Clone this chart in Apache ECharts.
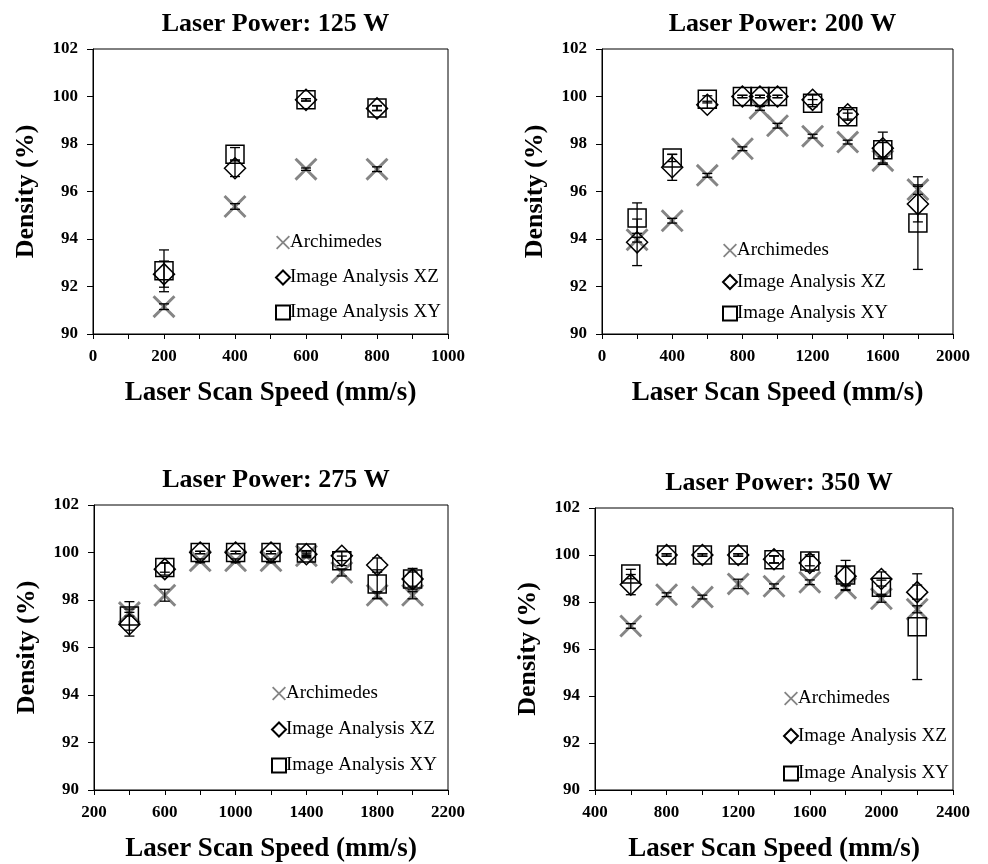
<!DOCTYPE html>
<html>
<head>
<meta charset="utf-8">
<script src="https://cdn.jsdelivr.net/npm/echarts@6/dist/echarts.min.js"></script>
<style>
  html, body { margin: 0; padding: 0; background: #fff; }
  #chart { width: 988px; height: 864px; }
</style>
</head>
<body>
<div id="chart"></div>
<script>
// ---- Data: density (%) vs laser scan speed (mm/s), one block per laser power ----
const seriesNames = ['Archimedes', 'Image Analysis XZ', 'Image Analysis XY'];
const densityTicks = [90, 92, 94, 96, 98, 100, 102];

// 125 W
const speeds125 = [200, 400, 600, 800];
const arch125 = [91.15, 95.37, 96.94, 96.94];
const archErr125 = [0.12, 0.12, 0.05, 0.1];
const xz125 = [92.52, 96.98, 99.86, 99.50];
const xzErr125 = [0.55, 0.35, 0.05, 0.1];
const xy125 = [92.66, 97.57, 99.86, 99.52];
const xyErr125 = [0.88, 0.28, 0.05, 0.1];
const speedTicks125 = [0, 200, 400, 600, 800, 1000];

// 200 W
const speeds200 = [200, 400, 600, 800, 900, 1000, 1200, 1400, 1600, 1800];
const arch200 = [93.97, 94.77, 96.68, 97.80, 99.50, 98.77, 98.33, 98.08, 97.30, 96.08];
const archErr200 = [0.1, 0.1, 0.08, 0.08, 0.08, 0.1, 0.08, 0.08, 0.1, 0.2];
const xz200 = [93.86, 97.02, 99.65, 100.0, 100.0, 100.0, 99.86, 99.25, 97.82, 95.47];
const xzErr200 = [0.98, 0.55, 0.15, 0.05, 0.05, 0.05, 0.2, 0.2, 0.68, 0.75];
const xy200 = [94.88, 97.41, 99.88, 100.0, 100.0, 100.0, 99.72, 99.15, 97.76, 94.67];
const xyErr200 = [0.64, 0.15, 0.15, 0.05, 0.05, 0.05, 0.15, 0.15, 0.3, 1.95];
const speedTicks200 = [0, 400, 800, 1200, 1600, 2000];

// 275 W
const speeds275 = [400, 600, 800, 1000, 1200, 1400, 1600, 1800, 2000];
const arch275 = [97.47, 98.20, 99.65, 99.65, 99.65, 99.86, 99.16, 98.20, 98.20];
const archErr275 = [0.15, 0.25, 0.08, 0.08, 0.08, 0.08, 0.15, 0.15, 0.15];
const xz275 = [96.98, 99.30, 100.0, 100.0, 100.0, 99.93, 99.86, 99.47, 98.88];
const xzErr275 = [0.5, 0.25, 0.05, 0.05, 0.05, 0.1, 0.2, 0.3, 0.45];
const xy275 = [97.33, 99.37, 100.0, 100.0, 100.0, 99.98, 99.65, 98.67, 98.88];
const xyErr275 = [0.6, 0.2, 0.05, 0.05, 0.05, 0.1, 0.2, 0.6, 0.3];
const speedTicks275 = [200, 600, 1000, 1400, 1800, 2200];

// 350 W
const speeds350 = [600, 800, 1000, 1200, 1400, 1600, 1800, 2000, 2200];
const arch350 = [96.98, 98.31, 98.21, 98.77, 98.67, 98.84, 98.59, 98.14, 97.69];
const archErr350 = [0.1, 0.08, 0.08, 0.2, 0.1, 0.1, 0.1, 0.15, 0.15];
const xz350 = [98.74, 100.0, 100.0, 100.0, 99.82, 99.66, 99.10, 98.98, 98.42];
const xzErr350 = [0.43, 0.05, 0.05, 0.05, 0.15, 0.35, 0.4, 0.3, 0.3];
const xy350 = [99.19, 100.0, 100.0, 100.0, 99.80, 99.74, 99.15, 98.63, 96.95];
const xyErr350 = [0.2, 0.05, 0.05, 0.05, 0.15, 0.2, 0.62, 0.3, 2.25];
const speedTicks350 = [400, 800, 1200, 1600, 2000, 2400];

const powers = ['125', '200', '275', '350'];

// ---- Panel definitions (data references + layout) ----
const panels = [
  { power: powers[0], speeds: speeds125, arch: arch125, archErr: archErr125, xz: xz125, xzErr: xzErr125, xy: xy125, xyErr: xyErr125,
    ticks: speedTicks125, min: 0, max: 1000, step: 100,
    grid: { left: 93, top: 49, width: 355, height: 285 }, legend: { left: 270, top: 227, gap: 14 } },
  { power: powers[1], speeds: speeds200, arch: arch200, archErr: archErr200, xz: xz200, xzErr: xzErr200, xy: xy200, xyErr: xyErr200,
    ticks: speedTicks200, min: 0, max: 2000, step: 200,
    grid: { left: 602, top: 49, width: 351, height: 285 }, legend: { left: 717, top: 235, gap: 10.5 } },
  { power: powers[2], speeds: speeds275, arch: arch275, archErr: archErr275, xz: xz275, xzErr: xzErr275, xy: xy275, xyErr: xyErr275,
    ticks: speedTicks275, min: 200, max: 2200, step: 200,
    grid: { left: 94, top: 505, width: 354, height: 285 }, legend: { left: 266, top: 678, gap: 15 } },
  { power: powers[3], speeds: speeds350, arch: arch350, archErr: archErr350, xz: xz350, xzErr: xzErr350, xy: xy350, xyErr: xyErr350,
    ticks: speedTicks350, min: 400, max: 2400, step: 200,
    grid: { left: 595, top: 508, width: 358, height: 285 }, legend: { left: 778, top: 683, gap: 16.5 } }
];

const FONT = "'Liberation Serif', 'Times New Roman', serif";
// filled "x" outline so it can be used both as a marker and a legend icon
const CROSS = 'path://M0,9 L9,0 L50,41 L91,0 L100,9 L59,50 L100,91 L91,100 L50,59 L9,100 L0,91 L41,50 Z';

function errorBarRender(params, api) {
  const x = api.value(0);
  const lo = api.coord([x, api.value(1)]);
  const hi = api.coord([x, api.value(2)]);
  const cap = 5;
  const st = { stroke: '#000', lineWidth: 1.3 };
  return {
    type: 'group',
    children: [
      { type: 'line', shape: { x1: lo[0], y1: lo[1], x2: hi[0], y2: hi[1] }, style: st },
      { type: 'line', shape: { x1: lo[0] - cap, y1: lo[1], x2: lo[0] + cap, y2: lo[1] }, style: st },
      { type: 'line', shape: { x1: hi[0] - cap, y1: hi[1], x2: hi[0] + cap, y2: hi[1] }, style: st }
    ]
  };
}

const option = {
  animation: false,
  backgroundColor: '#fff',
  title: [], grid: [], xAxis: [], yAxis: [], legend: [], series: []
};

panels.forEach((p, i) => {
  const g = p.grid;
  option.title.push({
    text: 'Laser Power: ' + p.power + ' W',
    left: g.left + g.width / 2, top: g.top - 43, textAlign: 'center',
    textStyle: { fontFamily: FONT, fontWeight: 'bold', fontSize: 26, color: '#000' }
  });
  option.grid.push({ left: g.left, top: g.top, width: g.width, height: g.height,
    show: true, borderColor: '#000', borderWidth: 1, backgroundColor: 'transparent' });
  option.xAxis.push({
    type: 'value', gridIndex: i, min: p.min, max: p.max, interval: p.step,
    name: 'Laser Scan Speed (mm/s)', nameLocation: 'middle', nameGap: 46,
    nameTextStyle: { fontFamily: FONT, fontWeight: 'bold', fontSize: 27, color: '#000' },
    axisLine: { show: true, onZero: false, lineStyle: { color: '#000', width: 1 } },
    axisTick: { show: true, length: 5, lineStyle: { color: '#000' } },
    splitLine: { show: false },
    axisLabel: {
      fontFamily: FONT, fontWeight: 'bold', fontSize: 17, color: '#000', margin: 14,
      formatter: v => (p.ticks.indexOf(v) >= 0 ? String(v) : '')
    }
  });
  option.yAxis.push({
    type: 'value', gridIndex: i, min: densityTicks[0], max: densityTicks[densityTicks.length - 1], interval: 2,
    name: 'Density (%)', nameLocation: 'middle', nameGap: 54,
    nameTextStyle: { fontFamily: FONT, fontWeight: 'bold', fontSize: 26, color: '#000' },
    axisLine: { show: true, onZero: false, lineStyle: { color: '#000', width: 1 } },
    axisTick: { show: true, length: 6, lineStyle: { color: '#000' } },
    splitLine: { show: false },
    axisLabel: { fontFamily: FONT, fontWeight: 'bold', fontSize: 17, color: '#000', margin: 15 }
  });
  option.legend.push({
    data: seriesNames, orient: 'vertical', left: p.legend.left, top: p.legend.top,
    itemGap: p.legend.gap, itemWidth: 14, itemHeight: 14,
    textStyle: { fontFamily: FONT, fontSize: 19, color: '#000', lineHeight: 21, padding: [0, 0, 0, -5] },
    selectedMode: false
  });

  const pts = (ys) => p.speeds.map((s, k) => [s, ys[k]]);
  const bars = (ys, es) => p.speeds.map((s, k) => [s, ys[k] - es[k], ys[k] + es[k]]);

  option.series.push({
    type: 'scatter', name: seriesNames[0], xAxisIndex: i, yAxisIndex: i, z: 2,
    symbol: CROSS, symbolSize: 23, data: pts(p.arch),
    itemStyle: { color: '#858585', opacity: 1 }
  });
  option.series.push({
    type: 'scatter', name: seriesNames[2], xAxisIndex: i, yAxisIndex: i, z: 3,
    symbol: 'rect', symbolSize: 18, data: pts(p.xy),
    itemStyle: { color: 'rgba(255,255,255,0)', borderColor: '#000', borderWidth: 1.5, opacity: 1 }
  });
  option.series.push({
    type: 'scatter', name: seriesNames[1], xAxisIndex: i, yAxisIndex: i, z: 4,
    symbol: 'diamond', symbolSize: 21, data: pts(p.xz),
    itemStyle: { color: 'rgba(255,255,255,0)', borderColor: '#000', borderWidth: 1.5, opacity: 1 }
  });
  [[p.arch, p.archErr], [p.xy, p.xyErr], [p.xz, p.xzErr]].forEach(([ys, es]) => {
    option.series.push({
      type: 'custom', xAxisIndex: i, yAxisIndex: i, z: 5, silent: true,
      renderItem: errorBarRender, encode: { x: 0, y: [1, 2] }, data: bars(ys, es)
    });
  });
});

const chart = echarts.init(document.getElementById('chart'), null, { renderer: 'canvas' });
chart.setOption(option);
</script>
</body>
</html>
